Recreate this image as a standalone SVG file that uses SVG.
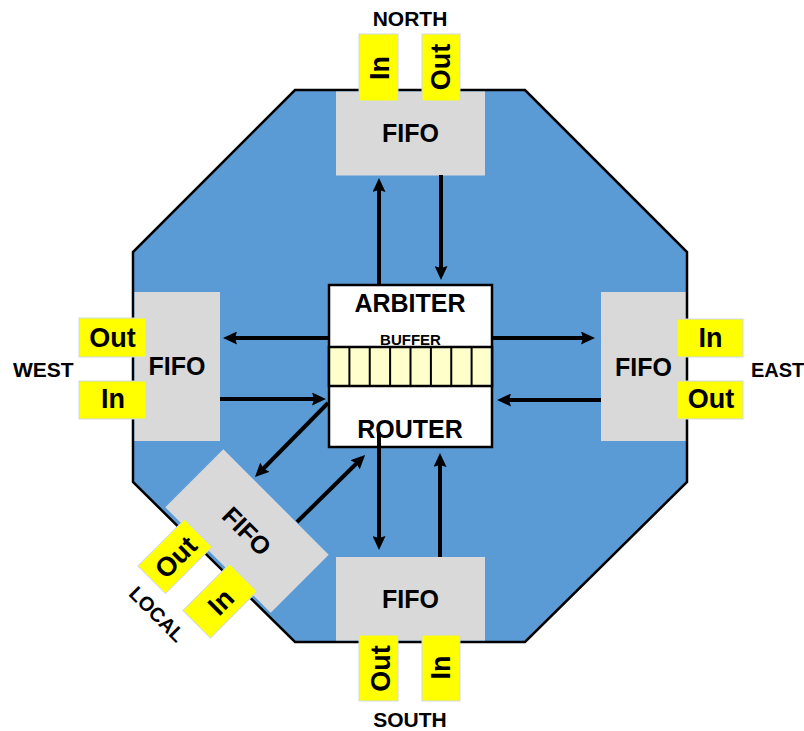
<svg xmlns="http://www.w3.org/2000/svg" width="804" height="731" viewBox="0 0 804 731">
<style>
.lbl{font-family:"Liberation Sans",Arial,sans-serif;font-weight:bold;fill:#000}
.fifo{fill:#D9D9D9}
.port{fill:#FFFF00;stroke:#cfd8e6;stroke-width:1}
.pt{font-size:27px;text-anchor:middle}
.ft{font-size:25px;text-anchor:middle}
.dir{font-size:21px}
.arr{stroke:#000;stroke-width:4;fill:none;marker-end:url(#ah)}
</style>
<defs>
<marker id="ah" markerUnits="userSpaceOnUse" markerWidth="14" markerHeight="13" refX="4" refY="6.5" orient="auto">
<path d="M0,0 L14,6.5 L0,13 L2,6.5 z" fill="#000"/>
</marker>
</defs>
<rect width="804" height="731" fill="#fff"/>
<g id="router-body">
<polygon points="295,90 525,90 687,252 687,482 525,642 295,642 133,482 133,252" fill="#5B9BD5" stroke="#000" stroke-width="2.5"/>
</g>
<g id="north">
<rect class="fifo" x="336" y="91.5" width="149" height="84"/>
<text class="lbl ft" x="410.5" y="142">FIFO</text>
<rect class="port" x="359" y="34" width="39" height="67"/>
<text class="lbl pt" transform="translate(389,68) rotate(-90)">In</text>
<rect class="port" x="422" y="34" width="38" height="67"/>
<text class="lbl pt" transform="translate(450,67) rotate(-90)">Out</text>
<text class="lbl dir" x="410" y="26" text-anchor="middle">NORTH</text>
</g>
<g id="south">
<rect class="fifo" x="336" y="557" width="149" height="83.5"/>
<text class="lbl ft" x="410.5" y="608">FIFO</text>
<rect class="port" x="359" y="635" width="39" height="66"/>
<text class="lbl pt" transform="translate(390,668.5) rotate(-90)">Out</text>
<rect class="port" x="422" y="635" width="38" height="66"/>
<text class="lbl pt" transform="translate(450,667.5) rotate(-90)">In</text>
<text class="lbl dir" x="410" y="727" text-anchor="middle">SOUTH</text>
</g>
<g id="west">
<rect class="fifo" x="134.5" y="292" width="85.5" height="149"/>
<text class="lbl ft" x="177" y="375">FIFO</text>
<rect class="port" x="79" y="318" width="67" height="39"/>
<text class="lbl pt" x="112.5" y="347">Out</text>
<rect class="port" x="79" y="381" width="67" height="38"/>
<text class="lbl pt" x="113" y="408">In</text>
<text class="lbl dir" x="13" y="377">WEST</text>
</g>
<g id="east">
<rect class="fifo" x="601" y="292" width="84.5" height="149"/>
<text class="lbl ft" x="643.5" y="376">FIFO</text>
<rect class="port" x="677" y="319" width="66" height="38"/>
<text class="lbl pt" x="710.5" y="347">In</text>
<rect class="port" x="677" y="381" width="66" height="38"/>
<text class="lbl pt" x="711" y="408">Out</text>
<text class="lbl" x="751" y="377" font-size="20">EAST</text>
</g>
<g id="local">
<g transform="translate(247,531) rotate(45)">
<rect class="fifo" x="-74.5" y="-41" width="149" height="82"/>
<text class="lbl ft" x="0" y="9">FIFO</text>
</g>
<g transform="translate(175,556.5) rotate(45)">
<rect class="port" x="-19.5" y="-33" width="39" height="66"/>
<text class="lbl pt" transform="translate(10.5,0) rotate(-90)">Out</text>
</g>
<g transform="translate(220,601) rotate(45)">
<rect class="port" x="-19.5" y="-33" width="39" height="66"/>
<text class="lbl pt" transform="translate(10.5,0) rotate(-90)">In</text>
</g>
<text class="lbl" font-size="20" text-anchor="middle" transform="translate(152,619) rotate(45)">LOCAL</text>
</g>
<g id="arbiter-router">
<rect x="329" y="285" width="163" height="162" fill="#fff" stroke="#000" stroke-width="2.5"/>
<text class="lbl" x="410" y="312" font-size="25" text-anchor="middle">ARBITER</text>
<text class="lbl" x="410.5" y="345" font-size="15" text-anchor="middle">BUFFER</text>
<rect x="329" y="347" width="163" height="39" fill="#FFFFCC" stroke="#000" stroke-width="2.5"/>
<g stroke="#000" stroke-width="2">
<line x1="349.4" y1="347" x2="349.4" y2="386"/>
<line x1="369.75" y1="347" x2="369.75" y2="386"/>
<line x1="390.1" y1="347" x2="390.1" y2="386"/>
<line x1="410.5" y1="347" x2="410.5" y2="386"/>
<line x1="430.9" y1="347" x2="430.9" y2="386"/>
<line x1="451.25" y1="347" x2="451.25" y2="386"/>
<line x1="471.6" y1="347" x2="471.6" y2="386"/>
</g>
<text class="lbl" x="410" y="438" font-size="25" text-anchor="middle">ROUTER</text>
</g>
<g id="connectors">
<line class="arr" x1="379" y1="285" x2="379" y2="188"/>
<line class="arr" x1="441" y1="175" x2="441" y2="270"/>
<line class="arr" x1="440" y1="557" x2="440" y2="463"/>
<line class="arr" x1="379" y1="432" x2="379" y2="540"/>
<line class="arr" x1="328" y1="338" x2="233" y2="338"/>
<line class="arr" x1="220" y1="399" x2="316" y2="399"/>
<line class="arr" x1="492" y1="338" x2="585" y2="338"/>
<line class="arr" x1="601" y1="400" x2="507" y2="400"/>
<line class="arr" x1="328" y1="403" x2="262" y2="470"/>
<line class="arr" x1="297" y1="522" x2="358" y2="462"/>
</g>
</svg>
